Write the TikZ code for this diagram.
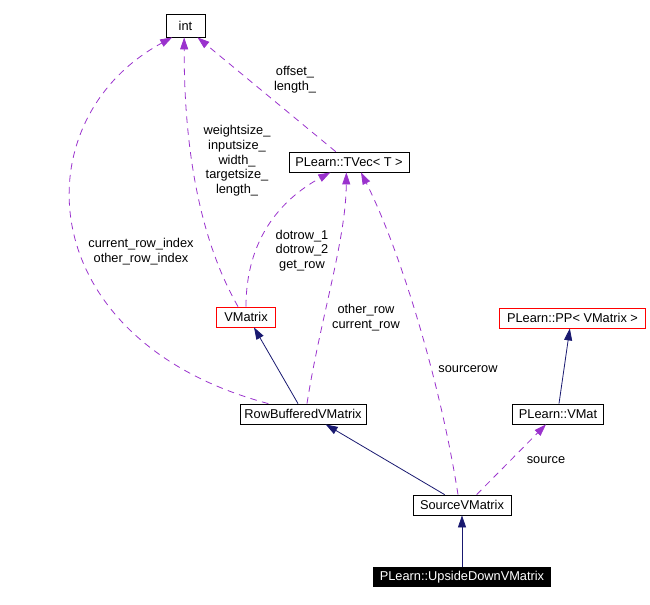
\documentclass[tikz,border=0pt]{standalone}
\usepackage{fontspec}
\setmainfont{Liberation Sans}
\usetikzlibrary{arrows.meta}
\definecolor{edgepurple}{HTML}{9A32CD}
\definecolor{edgenavy}{HTML}{191970}
\tikzset{
  classbox/.style={draw, line width=0.6pt, inner sep=0pt, minimum height=15pt, font=\fontsize{9.6}{11}\selectfont},
  edgelabel/.style={align=center, inner sep=0pt, font=\fontsize{9.6}{11}\selectfont},
  inherit/.style={edgenavy, line width=0.6pt, -{Triangle[length=9pt, width=6pt]}},
  usage/.style={edgepurple, line width=0.6pt, dash pattern=on 5pt off 4pt, -{Triangle[length=9pt, width=6pt]}}
}
\begin{document}
\begin{tikzpicture}[x=0.75pt, y=-0.75pt]
\useasboundingbox (0,0) rectangle (650,604);

\node[classbox, minimum width=29.25pt, minimum height=17.25pt] (int) at (185.5,25.5) {int};
\node[classbox, minimum width=90pt] (tvec) at (349,162) {PLearn::TVec< T >};
\node[classbox, draw=red, minimum width=44.25pt] (vmatrix) at (246,317) {VMatrix};
\node[classbox, minimum width=94.5pt] (rowbuf) at (303,414) {RowBufferedVMatrix};
\node[classbox, draw=red, minimum width=109.5pt] (pp) at (572.5,318) {PLearn::PP< VMatrix >};
\node[classbox, minimum width=68.25pt] (vmat) at (558,414) {PLearn::VMat};
\node[classbox, minimum width=73.5pt] (source) at (462,505) {SourceVMatrix};
\node[classbox, fill=black, text=white, minimum width=132.75pt, minimum height=14.25pt] (upside) at (462,577) {PLearn::UpsideDownVMatrix};

% inheritance
\draw[inherit] (upside.north) -- (source.south);
\draw[inherit] (source.north west) ++(32,0) -- ([xshift=17pt]rowbuf.south);
\draw[inherit] ([xshift=-3.75pt]rowbuf.north) -- ([xshift=6pt]vmatrix.south);
\draw[inherit] ([xshift=0.75pt]vmat.north) -- ([xshift=-2pt]pp.south);

% usage
\draw[usage] ([xshift=11pt]source.north) -- ([xshift=-9pt]vmat.south);
\draw[usage] ([xshift=-3pt]source.north) .. controls (440,380) and (400,250) .. ([xshift=9pt]tvec.south);
\draw[usage] ([xshift=3pt]rowbuf.north) .. controls (320,320) and (346,240) .. ([xshift=-2pt]tvec.south);
\draw[usage] (vmatrix.north) .. controls (246,240) and (280,200) .. ([xshift=-14pt]tvec.south);
\draw[usage] ([xshift=-6pt]vmatrix.north) .. controls (200,240) and (184,150) .. ([xshift=-1pt]int.south);
\draw[usage] ([xshift=-26pt]rowbuf.north) .. controls (30,340) and (20,120) .. ([xshift=-10pt]int.south);
\draw[usage] ([xshift=-10pt]tvec.north) -- ([xshift=9pt]int.south);

% labels
\node[edgelabel] (lbloffset) at (295,80) {offset\_\\length\_};
\node[edgelabel] (lblsize) at (237,161) {weightsize\_\\inputsize\_\\width\_\\targetsize\_\\length\_};
\node[edgelabel] (lbldotrow) at (302,250.5) {dotrow\_1\\dotrow\_2\\get\_row};
\node[edgelabel] (lblrow) at (366,317.5) {other\_row\\current\_row};
\node[edgelabel] (lblindex) at (141,251.5) {current\_row\_index\\other\_row\_index};
\node[edgelabel] (lblsourcerow) at (468,369) {sourcerow};
\node[edgelabel] (lblsource) at (546,460) {source};
\end{tikzpicture}
\end{document}
